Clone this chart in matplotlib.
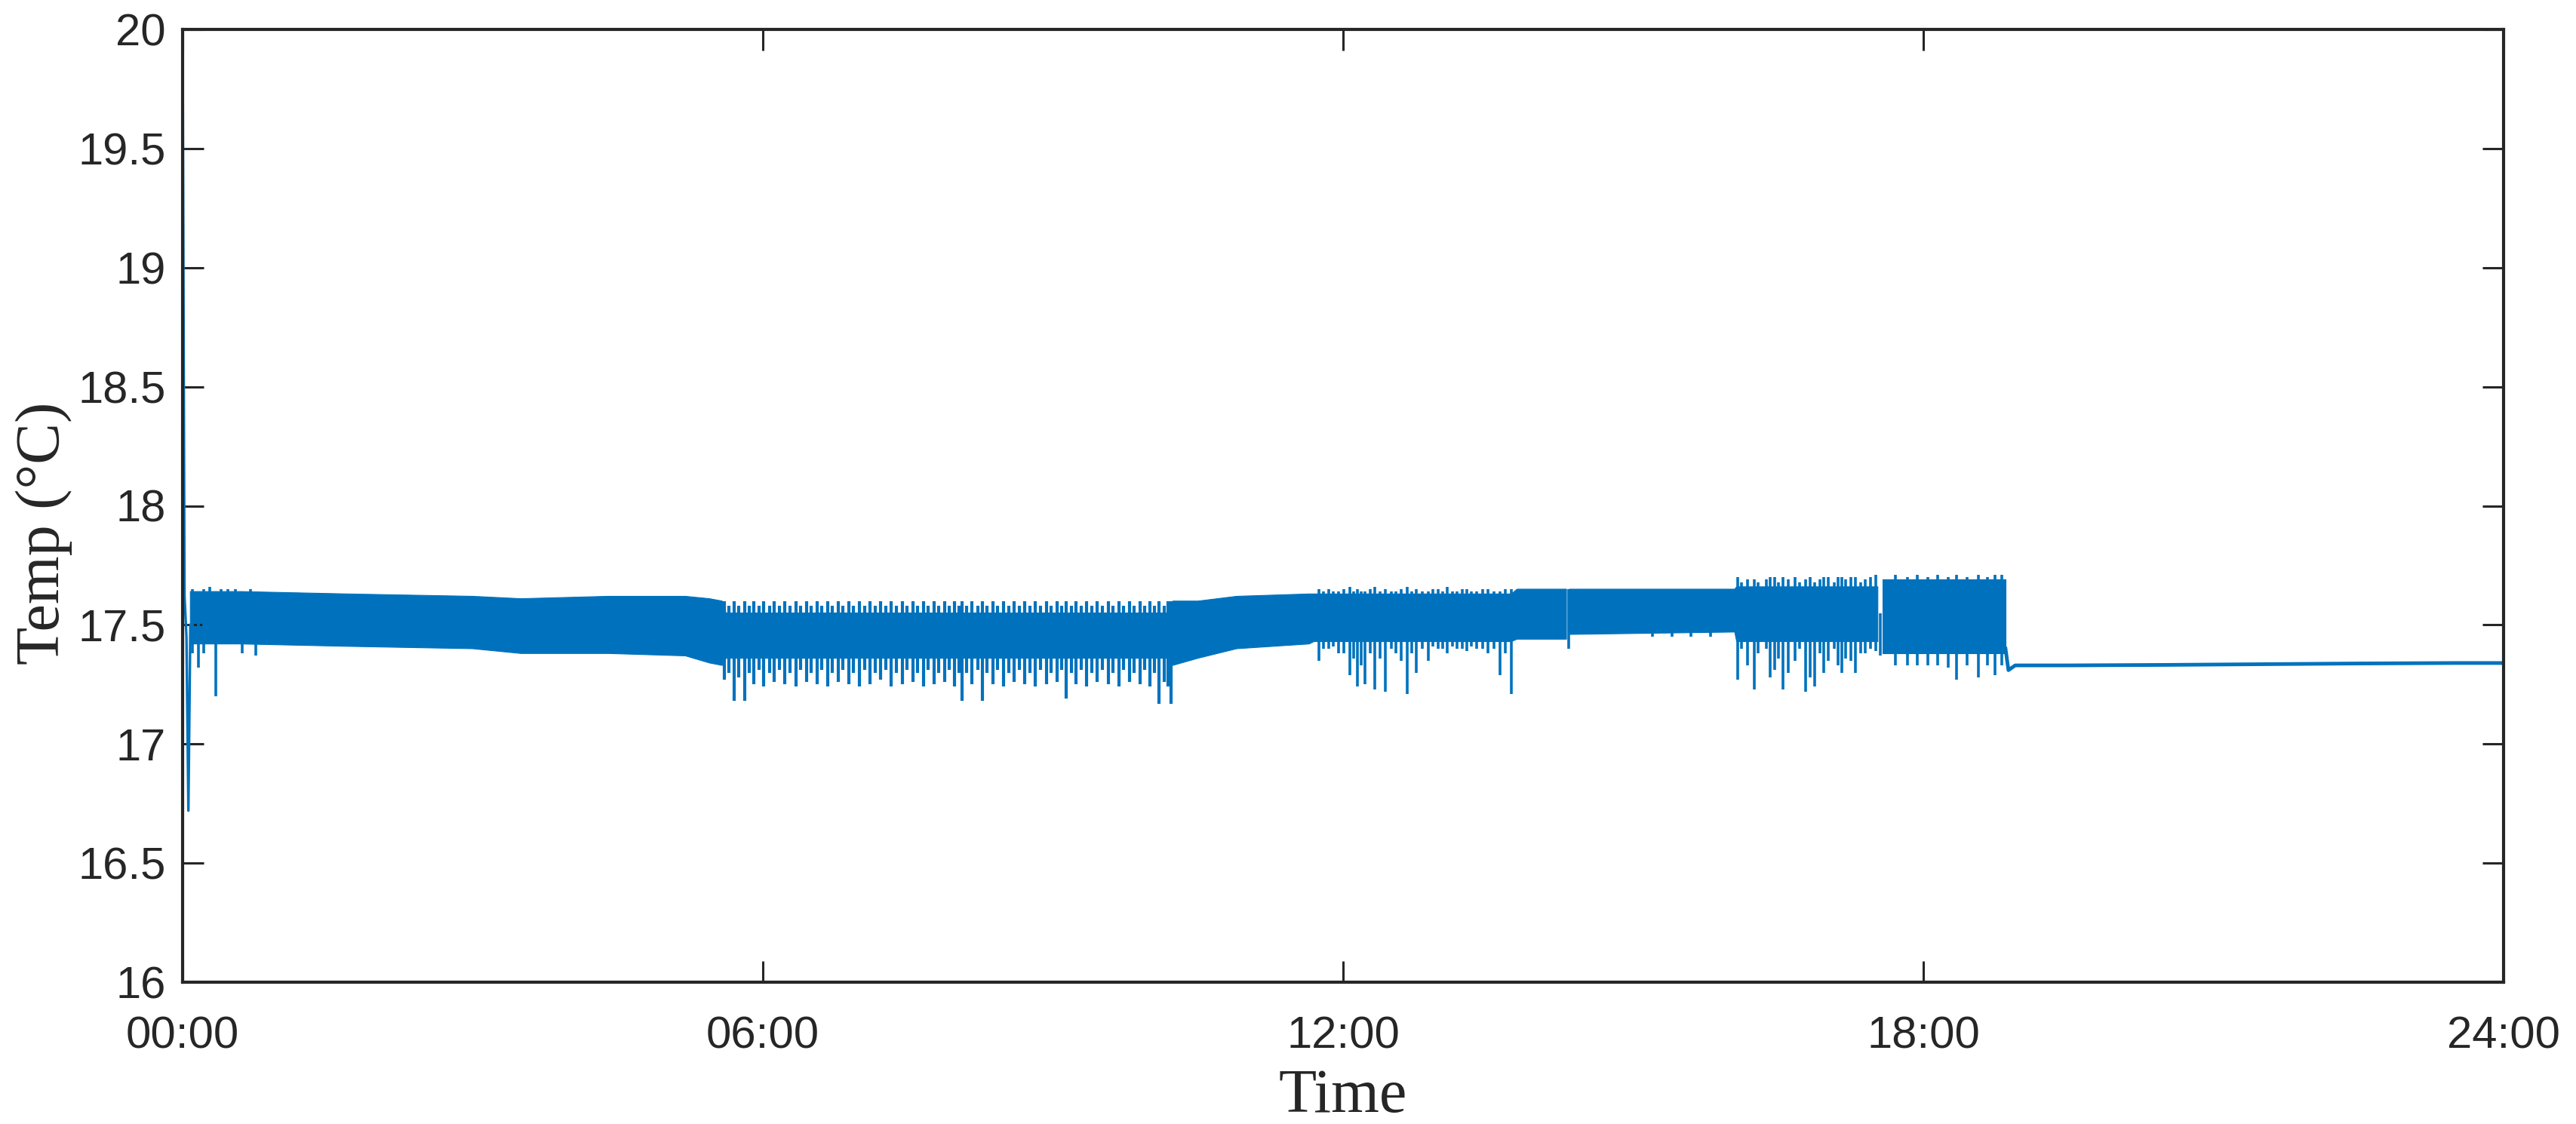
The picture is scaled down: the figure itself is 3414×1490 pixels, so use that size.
import numpy as np
import matplotlib
matplotlib.use("Agg")
import matplotlib.pyplot as plt

# ---------------- data (hours, °C) ----------------
# initial transient
start_t = [0.00, 0.02, 0.04, 0.06, 0.08]
start_v = [20.00, 17.62, 17.45, 16.72, 17.50]

# solid core band of the fast oscillation (NaN = gap in data)
band_t = [0.08, 0.60, 1.70, 3.00, 3.50, 4.40, 5.20, 5.45, 5.58,
          5.62, 10.20, 10.24, 10.50, 10.90, 11.65, 11.70, 13.74, 13.80,
          14.31, 14.32, 14.33, 14.34, 16.05, 16.07, 17.53, 17.535, 17.57,
          17.575, 18.85]
band_hi = [17.64, 17.64, 17.63, 17.62, 17.61, 17.62, 17.62, 17.61, 17.60,
           17.55, 17.55, 17.60, 17.60, 17.62, 17.63, 17.63, 17.63, 17.65,
           17.65, np.nan, np.nan, 17.65, 17.65, 17.66, 17.66, np.nan, np.nan,
           17.69, 17.69]
band_lo = [17.42, 17.42, 17.41, 17.40, 17.38, 17.38, 17.37, 17.34, 17.33,
           17.36, 17.36, 17.33, 17.36, 17.40, 17.42, 17.43, 17.43, 17.44,
           17.44, np.nan, np.nan, 17.46, 17.47, 17.43, 17.43, np.nan, np.nan,
           17.38, 17.38]

# regular comb of swings between ~05:36 and ~10:14
comb_t = [5.60, 5.65, 5.70, 5.75, 5.81, 5.86, 5.91, 5.96, 6.01, 6.07,
          6.12, 6.17, 6.23, 6.28, 6.34, 6.39, 6.45, 6.50, 6.56, 6.61,
          6.67, 6.72, 6.78, 6.83, 6.89, 6.94, 7.00, 7.05, 7.11, 7.16,
          7.22, 7.27, 7.33, 7.38, 7.44, 7.49, 7.55, 7.60, 7.66, 7.71,
          7.77, 7.82, 7.88, 7.93, 7.98, 8.03, 8.06, 8.11, 8.16, 8.22,
          8.27, 8.32, 8.38, 8.43, 8.49, 8.54, 8.60, 8.65, 8.71, 8.76,
          8.82, 8.87, 8.93, 8.98, 9.04, 9.09, 9.14, 9.19, 9.24, 9.29,
          9.35, 9.40, 9.46, 9.51, 9.57, 9.62, 9.68, 9.73, 9.79, 9.84,
          9.90, 9.95, 10.00, 10.05, 10.10, 10.15, 10.19, 10.22]
comb_lo = [17.27, 17.30, 17.18, 17.28, 17.18, 17.30, 17.25, 17.31, 17.24, 17.30,
           17.26, 17.31, 17.25, 17.30, 17.24, 17.31, 17.26, 17.30, 17.25, 17.31,
           17.24, 17.30, 17.26, 17.31, 17.25, 17.30, 17.24, 17.31, 17.25, 17.30,
           17.27, 17.31, 17.24, 17.30, 17.25, 17.31, 17.26, 17.30, 17.24, 17.31,
           17.25, 17.30, 17.26, 17.31, 17.24, 17.30, 17.18, 17.30, 17.25, 17.31,
           17.18, 17.30, 17.25, 17.31, 17.24, 17.30, 17.26, 17.31, 17.25, 17.30,
           17.24, 17.31, 17.25, 17.30, 17.26, 17.31, 17.19, 17.30, 17.25, 17.31,
           17.24, 17.30, 17.26, 17.31, 17.25, 17.30, 17.24, 17.31, 17.26, 17.30,
           17.25, 17.31, 17.24, 17.30, 17.17, 17.26, 17.24, 17.17]
comb_hi = [17.60, 17.58, 17.60, 17.58, 17.60, 17.58, 17.60, 17.58, 17.60, 17.58,
           17.60, 17.58, 17.60, 17.58, 17.60, 17.58, 17.60, 17.58, 17.60, 17.58,
           17.60, 17.58, 17.60, 17.58, 17.60, 17.58, 17.60, 17.58, 17.60, 17.58,
           17.60, 17.58, 17.60, 17.58, 17.60, 17.58, 17.60, 17.58, 17.60, 17.58,
           17.60, 17.58, 17.60, 17.58, 17.60, 17.58, 17.60, 17.58, 17.60, 17.58,
           17.60, 17.58, 17.60, 17.58, 17.60, 17.58, 17.60, 17.58, 17.60, 17.58,
           17.60, 17.58, 17.60, 17.58, 17.60, 17.58, 17.60, 17.58, 17.60, 17.58,
           17.60, 17.58, 17.60, 17.58, 17.60, 17.58, 17.60, 17.58, 17.60, 17.58,
           17.60, 17.58, 17.60, 17.58, 17.60, 17.58, 17.60, 17.60]

# individual large swings elsewhere
osc_t = [0.10, 0.16, 0.22, 0.28, 0.34, 0.40, 0.47, 0.55, 0.62, 0.70, 0.76,
         11.75, 11.80, 11.85, 11.90, 11.95, 12.01, 12.07, 12.11, 12.15, 12.19,
         12.23, 12.28, 12.33, 12.38, 12.44, 12.50, 12.55, 12.60, 12.66, 12.71,
         12.76, 12.82, 12.88, 12.93, 12.98, 13.03, 13.08, 13.13, 13.18, 13.23,
         13.28, 13.33, 13.38, 13.44, 13.50, 13.56, 13.62, 13.68, 13.74,
         14.33, 15.20, 15.40, 15.60, 15.80,
         16.08, 16.12, 16.18, 16.25, 16.29, 16.32, 16.38, 16.42, 16.46, 16.50,
         16.55, 16.60, 16.67, 16.72, 16.78, 16.83, 16.88, 16.93, 16.97, 17.02,
         17.08, 17.12, 17.16, 17.20, 17.25, 17.30, 17.35, 17.40, 17.45, 17.51,
         17.555,
         17.71, 17.84, 17.94, 18.05, 18.15, 18.26, 18.34, 18.45, 18.57, 18.66,
         18.74, 18.81]
osc_lo = [17.38, 17.32, 17.38, 17.45, 17.20, 17.44, 17.42, 17.42, 17.38, 17.42, 17.37,
          17.35, 17.40, 17.40, 17.41, 17.38, 17.38, 17.29, 17.36, 17.24, 17.33,
          17.25, 17.38, 17.23, 17.36, 17.22, 17.40, 17.38, 17.35, 17.21, 17.38,
          17.30, 17.40, 17.35, 17.41, 17.40, 17.40, 17.38, 17.41, 17.40, 17.40,
          17.39, 17.41, 17.40, 17.40, 17.38, 17.40, 17.29, 17.38, 17.21,
          17.40, 17.45, 17.45, 17.45, 17.45,
          17.27, 17.40, 17.33, 17.23, 17.38, 17.45, 17.40, 17.28, 17.31, 17.36,
          17.23, 17.30, 17.35, 17.40, 17.22, 17.28, 17.24, 17.38, 17.30, 17.35,
          17.40, 17.33, 17.30, 17.36, 17.35, 17.30, 17.38, 17.38, 17.40, 17.39,
          17.37,
          17.33, 17.33, 17.33, 17.33, 17.33, 17.32, 17.27, 17.33, 17.28, 17.33,
          17.29, 17.33]
osc_hi = [17.65, 17.64, 17.65, 17.66, 17.64, 17.65, 17.65, 17.65, 17.64, 17.65, 17.64,
          17.65, 17.64, 17.65, 17.64, 17.64, 17.65, 17.66, 17.64, 17.65, 17.64,
          17.64, 17.65, 17.66, 17.64, 17.65, 17.64, 17.64, 17.65, 17.66, 17.64,
          17.65, 17.64, 17.64, 17.65, 17.65, 17.64, 17.66, 17.64, 17.64, 17.65,
          17.65, 17.64, 17.64, 17.65, 17.65, 17.64, 17.64, 17.65, 17.65,
          17.65, 17.65, 17.65, 17.65, 17.65,
          17.70, 17.68, 17.69, 17.69, 17.68, 17.66, 17.69, 17.70, 17.70, 17.68,
          17.70, 17.69, 17.70, 17.68, 17.69, 17.70, 17.68, 17.69, 17.70, 17.70,
          17.68, 17.70, 17.70, 17.69, 17.70, 17.70, 17.68, 17.69, 17.70, 17.71,
          17.55,
          17.71, 17.70, 17.71, 17.70, 17.71, 17.70, 17.71, 17.70, 17.71, 17.70,
          17.71, 17.71]

# settled tail after ~18:52
tail_t = [18.85, 18.88, 18.95, 19.50, 20.50, 21.50, 22.50, 23.00, 23.50, 24.00]
tail_v = [17.40, 17.31, 17.33, 17.330, 17.332, 17.335, 17.338, 17.339, 17.340, 17.340]

yticks = [16, 16.5, 17, 17.5, 18, 18.5, 19, 19.5, 20]
ytick_labels = ["16", "16.5", "17", "17.5", "18", "18.5", "19", "19.5", "20"]
xticks = [0, 6, 12, 18, 24]
xtick_labels = ["00:00", "06:00", "12:00", "18:00", "24:00"]

# ---------------- drawing ----------------
W, H = 3414, 1490
fig = plt.figure(figsize=(W / 100, H / 100), dpi=100)
ax = fig.add_axes([242 / W, 1 - 1302 / H, (3318 - 242) / W, (1302 - 39) / H])

col = "#0072BD"
ax.fill_between(band_t, band_lo, band_hi, color=col, linewidth=0.8, edgecolor=col)
ax.vlines(comb_t, comb_lo, comb_hi, color=col, linewidth=3.0)
ax.vlines(osc_t, osc_lo, osc_hi, color=col, linewidth=2.6)
ax.plot(start_t, start_v, color=col, linewidth=2.4)
ax.plot(tail_t, tail_v, color=col, linewidth=3.5)

ax.set_xlim(0, 24)
ax.set_ylim(16, 20)
ax.set_xticks(xticks)
ax.set_xticklabels(xtick_labels)
ax.set_yticks(yticks)
ax.set_yticklabels(ytick_labels)

dark = "#262626"
for s in ax.spines.values():
    s.set_linewidth(3.0)
    s.set_color(dark)
ax.tick_params(axis="both", which="major", direction="in", length=20, width=2.2,
               color=dark, labelcolor=dark, top=True, right=True)
ax.tick_params(axis="x", pad=32)
ax.tick_params(axis="y", pad=16)
for lab in ax.get_xticklabels() + ax.get_yticklabels():
    lab.set_fontfamily("Liberation Sans")
    lab.set_fontsize(43)

ax.set_xlabel("Time", fontfamily="Liberation Serif", fontsize=59, color=dark)
ax.set_ylabel("Temp (°C)", fontfamily="Liberation Serif", fontsize=59, color=dark)
ax.xaxis.set_label_coords(0.5, -0.091)
ax.yaxis.set_label_coords(-0.0475, 0.471)

fig.savefig("out.png", dpi=100)
